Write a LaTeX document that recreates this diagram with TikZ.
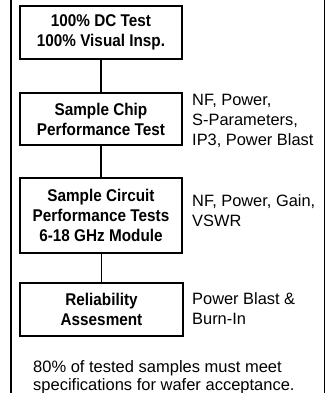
\documentclass[tikz,border=0pt]{standalone}
\usepackage{fontspec}
\setmainfont{Liberation Sans}[BoldFeatures={FakeStretch=0.9}]
\begin{document}
\begin{tikzpicture}[x=1pt,y=-1pt,
  stepbox/.style={draw, line width=1.7pt, inner sep=0pt, align=center,
    font=\bfseries\fontsize{17}{20}\selectfont},
  conn/.style={line width=1.1pt},
  frame/.style={line width=1.3pt},
  lbl/.style={anchor=north west, inner sep=0pt, align=left,
    font=\fontsize{16.4}{20}\selectfont}]
\useasboundingbox (0,0) rectangle (326,393);
% outer frame sides
\coordinate (fl1) at (11,0);
\coordinate (fl2) at (11,393);
\coordinate (fr1) at (324.5,0);
\coordinate (fr2) at (324.5,393);
\draw[frame] (fl1) -- (fl2);
\draw[frame] (fr1) -- (fr2);
% boxes
\node[stepbox, minimum width=162pt, minimum height=53pt] (b1) at (101,32.5)
  {\fontsize{17}{18.6}\selectfont 100\% DC Test\\100\% Visual Insp.};
\node[stepbox, minimum width=162pt, minimum height=52pt] (b2) at (101,119)
  {Sample Chip\\Performance Test};
\node[stepbox, minimum width=162pt, minimum height=75pt] (b3) at (101,215.5)
  {\fontsize{17}{20.8}\selectfont Sample Circuit\\Performance Tests\\6-18 GHz Module};
\node[stepbox, minimum width=163pt, minimum height=53pt] (b4) at (101.5,309.5)
  {\fontsize{17}{21}\selectfont Reliability\\Assesment};
% connectors
\draw[conn] (b1) -- (b2);
\draw[conn] (b2) -- (b3);
\draw[conn] (b3.south -| b4.north) -- (b4.north);
% side labels
\node[lbl] (l2) at (192,94) {NF, Power,\\S-Parameters,\\IP3, Power Blast};
\node[lbl] (l3) at (192,194) {NF, Power, Gain,\\VSWR};
\node[lbl] (l4) at (192,292.3) {Power Blast \&\\Burn-In};
\node[lbl, font=\fontsize{16.5}{18.5}\selectfont] (note) at (33,360)
  {80\% of tested samples must meet\\specifications for wafer acceptance.};
\end{tikzpicture}
\end{document}
